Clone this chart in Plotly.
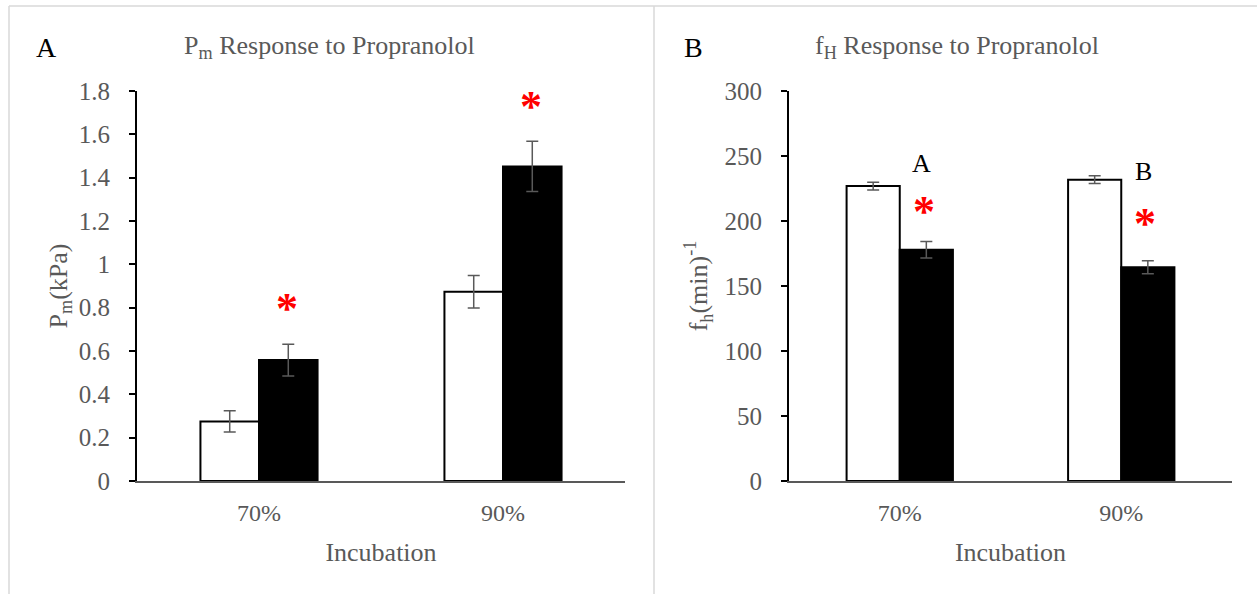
import plotly.graph_objects as go

categories = ["70%", "90%"]

# Panel A: Pm (kPa)
pm_control = [0.275, 0.874]
pm_control_err = [0.049, 0.075]
pm_prop = [0.558, 1.452]
pm_prop_err = [0.073, 0.116]
pm_sig_y = [0.823, 1.755]

# Panel B: fH (min^-1)
fh_control = [226.9, 231.8]
fh_control_err = [3.0, 3.0]
fh_prop = [177.9, 164.4]
fh_prop_err = [6.3, 5.0]
fh_sig_y = [212.3, 202.8]
fh_letters = ["A", "B"]
fh_letter_y = [244.4, 237.9]

FONT = "Liberation Serif"
GRAY = "#595959"
W, H = 1257, 594

fig = go.Figure()

err_style = dict(type="data", visible=True, color=GRAY, thickness=1.5, width=6)

fig.add_trace(go.Bar(x=categories, y=pm_control, xaxis="x", yaxis="y",
                     marker=dict(color="white", line=dict(color="black", width=2)),
                     error_y=dict(array=pm_control_err, **err_style), showlegend=False))
fig.add_trace(go.Bar(x=categories, y=pm_prop, xaxis="x", yaxis="y",
                     marker=dict(color="black", line=dict(color="black", width=2)),
                     error_y=dict(array=pm_prop_err, **err_style), showlegend=False))
fig.add_trace(go.Bar(x=categories, y=fh_control, xaxis="x2", yaxis="y2",
                     marker=dict(color="white", line=dict(color="black", width=2)),
                     error_y=dict(array=fh_control_err, **err_style), showlegend=False))
fig.add_trace(go.Bar(x=categories, y=fh_prop, xaxis="x2", yaxis="y2",
                     marker=dict(color="black", line=dict(color="black", width=2)),
                     error_y=dict(array=fh_prop_err, **err_style), showlegend=False))

ydom = [1 - 481 / H, 1 - 91 / H]

xcommon = dict(type="category", showline=True, linecolor=GRAY, linewidth=1.5,
               ticks="", showgrid=False, zeroline=False, automargin=False,
               tickfont=dict(family=FONT, size=24, color=GRAY),
               ticklabelstandoff=9,
               title=dict(text="Incubation", font=dict(family=FONT, size=26, color=GRAY), standoff=18))
ycommon = dict(showline=True, linecolor="black", linewidth=2, ticks="outside", automargin=False,
               ticklen=6, tickcolor="black", tickwidth=1.5, showgrid=False, zeroline=False,
               tickfont=dict(family=FONT, size=25, color=GRAY), ticklabelstandoff=14)

fig.update_layout(
    width=W, height=H,
    margin=dict(l=0, r=0, t=0, b=0, autoexpand=False),
    paper_bgcolor="white", plot_bgcolor="white",
    barmode="group", bargap=0.52, bargroupgap=0,
    xaxis=dict(domain=[137 / W, 625 / W], anchor="y", range=[-0.5, 1.5], **xcommon),
    yaxis=dict(domain=ydom, anchor="x", range=[0, 1.8], dtick=0.2, tickformat="~g",
               title=dict(text="P<sub>m</sub>(kPa)", font=dict(family=FONT, size=26, color=GRAY), standoff=4),
               **ycommon),
    xaxis2=dict(domain=[789 / W, 1232 / W], anchor="y2", range=[-0.5, 1.5], **xcommon),
    yaxis2=dict(domain=ydom, anchor="x2", range=[0, 300], dtick=50,
                title=dict(text="f<sub>h</sub>(min)<sup>-1</sup>", font=dict(family=FONT, size=26, color=GRAY), standoff=9),
                **ycommon),
)

annotations = []
# panel labels and titles
annotations.append(dict(x=46 / W, y=1 - 47 / H, xref="paper", yref="paper", text="A", showarrow=False,
                        font=dict(family=FONT, size=28, color="black"), xanchor="center", yanchor="middle"))
annotations.append(dict(x=329 / W, y=1 - 47 / H, xref="paper", yref="paper",
                        text="P<sub>m</sub> Response to Propranolol", showarrow=False,
                        font=dict(family=FONT, size=26, color=GRAY), xanchor="center", yanchor="middle"))
annotations.append(dict(x=693 / W, y=1 - 47 / H, xref="paper", yref="paper", text="B", showarrow=False,
                        font=dict(family=FONT, size=28, color="black"), xanchor="center", yanchor="middle"))
annotations.append(dict(x=957 / W, y=1 - 47 / H, xref="paper", yref="paper",
                        text="f<sub>H</sub> Response to Propranolol", showarrow=False,
                        font=dict(family=FONT, size=26, color=GRAY), xanchor="center", yanchor="middle"))

# significance asterisks
for i, c in enumerate(categories):
    annotations.append(dict(x=c, y=pm_sig_y[i], xref="x", yref="y", text="<b>*</b>", showarrow=False,
                            xshift=28, yshift=-6,
                            font=dict(family=FONT, size=44, color="red"), xanchor="center", yanchor="middle"))
    annotations.append(dict(x=c, y=fh_sig_y[i], xref="x2", yref="y2", text="<b>*</b>", showarrow=False,
                            xshift=24, yshift=-6,
                            font=dict(family=FONT, size=44, color="red"), xanchor="center", yanchor="middle"))
    annotations.append(dict(x=c, y=fh_letter_y[i], xref="x2", yref="y2", text=fh_letters[i], showarrow=False,
                            xshift=22,
                            font=dict(family=FONT, size=26, color="black"), xanchor="center", yanchor="middle"))
fig.update_layout(annotations=annotations)

# frame lines
shapes = [
    dict(type="line", xref="paper", yref="paper", x0=9 / W, x1=9 / W, y0=0, y1=1 - 6 / H,
         line=dict(color="#d9d9d9", width=1.5)),
    dict(type="line", xref="paper", yref="paper", x0=9 / W, x1=1, y0=1 - 6 / H, y1=1 - 6 / H,
         line=dict(color="#d9d9d9", width=1.5)),
    dict(type="line", xref="paper", yref="paper", x0=654 / W, x1=654 / W, y0=0, y1=1 - 6 / H,
         line=dict(color="#d9d9d9", width=1.5)),
]
fig.update_layout(shapes=shapes)

fig.write_html("out.html", config={"displayModeBar": False},
               post_script="document.body.style.margin='0';")
